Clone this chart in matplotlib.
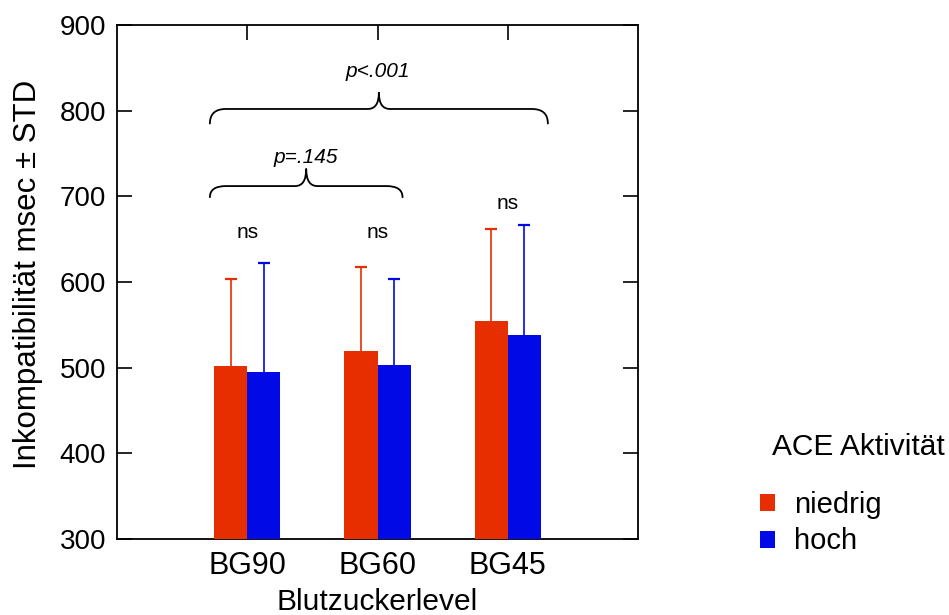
import numpy as np
import matplotlib
matplotlib.use("Agg")
import matplotlib.pyplot as plt
from matplotlib.patches import Patch, PathPatch
from matplotlib.path import Path

plt.rcParams["font.family"] = ["Liberation Sans", "DejaVu Sans"]

# data
categories = ["BG90", "BG60", "BG45"]
mean_low = [501.5, 519.8, 554.7]
std_low = [102.2, 97.5, 107.3]
mean_high = [494.5, 503.1, 537.6]
std_high = [127.5, 100.0, 129.4]
ns_heights = [658, 658, 692]
series_labels = ["niedrig", "hoch"]

RED = "#E62E00"
BLUE = "#0009E6"


def draw_brace(ax, x0, x1, y_end, y_flat, y_tip, r_end=0.123, r_tip=0.085, lw=1.3):
    """Curly brace opening downward, tip pointing up at the middle."""
    xm = (x0 + x1) / 2
    verts = [
        (x0, y_end),
        (x0, y_flat), (x0 + r_end, y_flat),
        (xm - r_tip, y_flat),
        (xm, y_flat), (xm, y_tip),
        (xm, y_flat), (xm + r_tip, y_flat),
        (x1 - r_end, y_flat),
        (x1, y_flat), (x1, y_end),
    ]
    codes = [
        Path.MOVETO,
        Path.CURVE3, Path.CURVE3,
        Path.LINETO,
        Path.CURVE3, Path.CURVE3,
        Path.CURVE3, Path.CURVE3,
        Path.LINETO,
        Path.CURVE3, Path.CURVE3,
    ]
    ax.add_patch(PathPatch(Path(verts, codes), facecolor="none", edgecolor="black",
                           lw=lw, capstyle="round", joinstyle="round"))


def upper_errorbar(ax, xs, means, stds, color):
    tops = np.array(means) + np.array(stds)
    ax.vlines(xs, means, tops, color=color, lw=1.2, zorder=2)
    ax.plot(xs, tops, ls="none", marker="_", markersize=8, markeredgewidth=1.6,
            color=color, zorder=2)


fig = plt.figure(figsize=(9.49, 6.15), dpi=100)
ax = fig.add_axes([0.1233, 0.1236, 0.549, 0.8357])

x = np.arange(len(categories))
width = 0.254

ax.bar(x - width / 2, mean_low, width, color=RED, zorder=3)
ax.bar(x + width / 2, mean_high, width, color=BLUE, zorder=3)
upper_errorbar(ax, x - width / 2, mean_low, std_low, RED)
upper_errorbar(ax, x + width / 2, mean_high, std_high, BLUE)

for xi, h in zip(x, ns_heights):
    ax.text(xi, h, "ns", ha="center", va="center", fontsize=15)

# significance braces
draw_brace(ax, -0.287, 1.192, 699, 712, 732)
ax.text(0.452, 745, "p=.145", ha="center", va="center", fontsize=15, style="italic")
draw_brace(ax, -0.287, 2.308, 785, 802, 821)
ax.text(1.0, 846, "p<.001", ha="center", va="center", fontsize=15, style="italic")

ax.set_xlim(-1.0, 3.0)
ax.set_ylim(300, 900)
ax.set_yticks(np.arange(300, 901, 100))
ax.set_xticks(x)
ax.set_xticklabels(categories)

ax.tick_params(axis="y", direction="in", left=True, right=True, length=11, width=1.2,
               labelsize=20, pad=8)
ax.tick_params(axis="x", direction="in", bottom=False, top=True, length=11, width=1.2,
               labelsize=22, pad=9)
for sp in ax.spines.values():
    sp.set_linewidth(1.3)

ax.set_xlabel("Blutzuckerlevel", fontsize=21.5, labelpad=5)
ax.set_ylabel("Inkompatibilität msec ± STD", fontsize=22.5, labelpad=12)
ax.yaxis.label.set_y(0.515)

# legend: title as separate text so its gap to the entries can match
fig.text(772 / 949, 1 - 447 / 615, "ACE Aktivität", fontsize=21.5, ha="left", va="center")
handles = [Patch(facecolor=RED, edgecolor="none"), Patch(facecolor=BLUE, edgecolor="none")]
fig.legend(handles, series_labels, loc="upper left", bbox_to_anchor=(760 / 949, 1 - 491 / 615),
           frameon=False, fontsize=21, borderpad=0, borderaxespad=0,
           handlelength=0.52, handleheight=0.52, handletextpad=0.65, labelspacing=0.29)

fig.savefig("out.png", dpi=100, facecolor="white")
